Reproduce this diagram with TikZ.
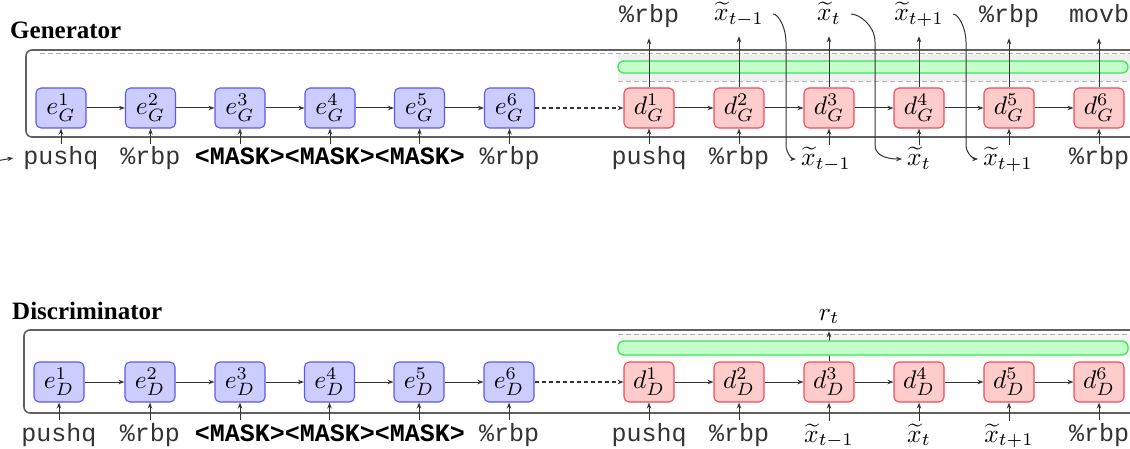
\documentclass[tikz,border=0pt]{standalone}
\usepackage{fontspec}
\setmainfont{Liberation Serif}
\setmonofont{Liberation Mono}
\usetikzlibrary{arrows.meta,calc}
\definecolor{encfill}{HTML}{CCCCFF}
\definecolor{encdraw}{HTML}{5A5AF0}
\definecolor{decfill}{HTML}{FFCCCC}
\definecolor{decdraw}{HTML}{F04A5A}
\definecolor{barfill}{HTML}{C4FFCA}
\definecolor{bardraw}{HTML}{3CE65A}
\definecolor{lineclr}{HTML}{333333}
\definecolor{boxclr}{HTML}{606060}
\definecolor{bandfill}{HTML}{F0F0F0}
\newcommand\sm[1]{\scalebox{2.55}{$#1$}}
\begin{document}
\begin{tikzpicture}[x=1pt,y=-1pt,
  cell/.style={rounded corners=5pt, minimum width=50pt, minimum height=40pt, inner sep=0pt, line width=1.1pt},
  enc/.style={cell, fill=encfill, draw=encdraw},
  dec/.style={cell, fill=decfill, draw=decdraw},
  arr/.style={draw=lineclr, line width=1pt, -{Stealth[length=6pt,width=4.5pt]}},
  lbl/.style={anchor=base, inner sep=1pt, text height=20pt, text depth=6pt},
  tt/.style={lbl, text=black!80, font=\fontsize{25}{25}\selectfont\ttfamily},
  ttb/.style={lbl, font=\fontsize{25}{25}\selectfont\ttfamily\bfseries},
  mth/.style={lbl},
  ttl/.style={font=\fontsize{25}{25}\selectfont\bfseries, anchor=base west, inner sep=0pt},
  frame/.style={draw=boxclr, line width=1.6pt, rounded corners=6pt},
  band/.style={draw=gray!60, line width=0.9pt, dash pattern=on 5pt off 3pt},
  bar/.style={fill=barfill, draw=bardraw, line width=1.3pt, rounded corners=6pt}
]
\useasboundingbox (0,0) rectangle (1130,449);
\clip (0,0) rectangle (1130,449);

% ================= Generator =================
\node[ttl] (gtitle) at (10,39) {Generator};
\fill[bandfill] (618,53) rectangle (1140,81);
\draw[band] (40,53) -- (1140,53);
\draw[band] (618,81) -- (1140,81);
\draw[frame] (1150,50) -- (26,50) -- (26,137) -- (1150,137);
\draw[bar] (618,61) rectangle (1128,73);

\foreach \i/\x in {1/61,2/150.5,3/240,4/330,5/419.5,6/509.5}
  \node[enc] (eg\i) at (\x,108) {\sm{e_G^{\i}}};
\foreach \i/\x in {1/649,2/739,3/829,4/919,5/1009,6/1099}
  \node[dec] (dg\i) at (\x,108) {\sm{d_G^{\i}}};
\foreach \i/\j in {1/2,2/3,3/4,4/5,5/6} {
  \draw[arr] (eg\i) -- (eg\j);
  \draw[arr] (dg\i) -- (dg\j);
}
\draw[arr, line width=1.5pt, dash pattern=on 4pt off 3pt] (eg6) -- (dg1);

% bottom inputs
\node[tt] (gb1) at (61,165) {pushq};
\node[tt] (gb2) at (150.5,165) {\%rbp};
\node[ttb] (gbm) at (330,165) {<MASK><MASK><MASK>};
\node[tt] (gb6) at (509.5,165) {\%rbp};
\node[tt] (gd1) at (649,165) {pushq};
\node[tt] (gd2) at (739,165) {\%rbp};
\node[mth] (gd3) at (826,166) {\sm{\widetilde{x}_{t-1}}};
\node[mth] (gd4) at (919,166) {\sm{\widetilde{x}_{t}}};
\node[mth] (gd5) at (1008,166) {\sm{\widetilde{x}_{t+1}}};
\node[tt] (gd6) at (1099,165) {\%rbp};
\coordinate (lin) at (-4,161);
\draw[arr] (lin) -- ($(gb1.west)+(-9,0)$);

\draw[arr] (gb1.north) -- (eg1.south);
\draw[arr] (gb2.north) -- (eg2.south);
\draw[arr] (gbm.north -| eg3) -- (eg3.south);
\draw[arr] (gbm.north -| eg4) -- (eg4.south);
\draw[arr] (gbm.north -| eg5) -- (eg5.south);
\draw[arr] (gb6.north) -- (eg6.south);
\foreach \i in {1,...,6}
  \draw[arr] (gd\i.north -| dg\i) -- (dg\i.south);

% top outputs
\node[tt] (gt1) at (649,23) {\%rbp};
\node[mth] (gt2) at (739,21) {\sm{\widetilde{x}_{t-1}}};
\node[mth] (gt3) at (829,21) {\sm{\widetilde{x}_{t}}};
\node[mth] (gt4) at (919,21) {\sm{\widetilde{x}_{t+1}}};
\node[tt] (gt5) at (1009,23) {\%rbp};
\node[tt] (gt6) at (1099,23) {movb};
\foreach \i in {1,...,6}
  \draw[arr, shorten >=8pt] (dg\i.north) -- (gt\i.south -| dg\i);

% feedback curves
\draw[arr, shorten <=8pt, shorten >=4pt] (gt2.east) to[out=0,in=90] (786,42) -- (786,145) to[out=-90,in=180] (gd3.west);
\draw[arr, shorten <=9pt, shorten >=4pt] (gt3.east) to[out=0,in=90] (875,42) -- (875,145) to[out=-90,in=180] (gd4.west);
\draw[arr, shorten <=8pt, shorten >=4pt] (gt4.east) to[out=0,in=90] (966,42) -- (966,145) to[out=-90,in=180] (gd5.west);

% ================= Discriminator =================
\node[ttl] (dtitle) at (12,319) {Discriminator};
\fill[bandfill!60] (618,334) rectangle (1140,358);
\draw[band] (618,334) -- (1140,334);
\draw[frame] (1150,330) -- (24,330) -- (24,413) -- (1150,413);

\foreach \i/\x in {1/59,2/150,3/240,4/329.5,5/419,6/509}
  \node[enc] (ed\i) at (\x,382) {\sm{e_D^{\i}}};
\foreach \i/\x in {1/649,2/739,3/829,4/919,5/1009,6/1099}
  \node[dec] (dd\i) at (\x,382) {\sm{d_D^{\i}}};
\foreach \i/\j in {1/2,2/3,3/4,4/5,5/6} {
  \draw[arr] (ed\i) -- (ed\j);
  \draw[arr] (dd\i) -- (dd\j);
}
\draw[arr, line width=1.5pt, dash pattern=on 4pt off 3pt] (ed6) -- (dd1);

\node[mth] (rt) at (829,320) {\sm{r_t}};
\draw[arr, shorten >=4pt] (dd3.north) -- (rt.south);
\draw[bar] (618,341) rectangle (1128,355);

\node[tt] (db1) at (59,441) {pushq};
\node[tt] (db2) at (150,441) {\%rbp};
\node[ttb] (dbm) at (330,441) {<MASK><MASK><MASK>};
\node[tt] (db6) at (509,441) {\%rbp};
\node[tt] (dd1l) at (649,441) {pushq};
\node[tt] (dd2l) at (739,441) {\%rbp};
\node[mth] (dd3l) at (829,442) {\sm{\widetilde{x}_{t-1}}};
\node[mth] (dd4l) at (919,442) {\sm{\widetilde{x}_{t}}};
\node[mth] (dd5l) at (1009,442) {\sm{\widetilde{x}_{t+1}}};
\node[tt] (dd6l) at (1099,441) {\%rbp};

\draw[arr] (db1.north) -- (ed1.south);
\draw[arr] (db2.north) -- (ed2.south);
\draw[arr] (dbm.north -| ed3) -- (ed3.south);
\draw[arr] (dbm.north -| ed4) -- (ed4.south);
\draw[arr] (dbm.north -| ed5) -- (ed5.south);
\draw[arr] (db6.north) -- (ed6.south);
\foreach \i in {1,...,6}
  \draw[arr] (dd\i l.north -| dd\i) -- (dd\i.south);
\end{tikzpicture}
\end{document}
